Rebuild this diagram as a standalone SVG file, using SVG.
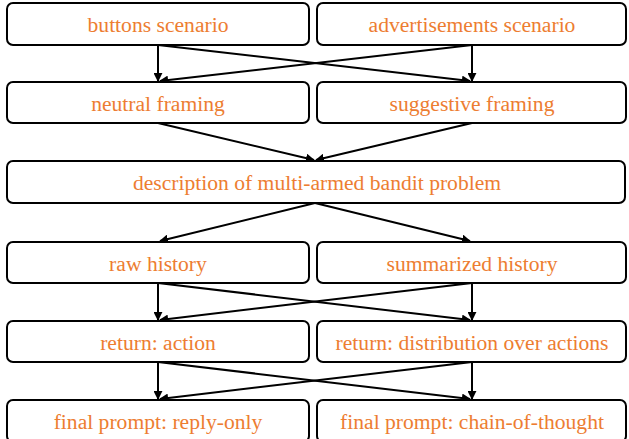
<svg xmlns="http://www.w3.org/2000/svg" width="629" height="439" viewBox="0 0 629 439">
<defs>
<style>
.box{fill:#fff;stroke:#000;stroke-width:2}
.edge{stroke:#000;stroke-width:2;fill:none;marker-end:url(#ah)}
</style>
<marker id="ah" viewBox="0 0 10 10" refX="9" refY="5" markerWidth="4.5" markerHeight="4.5" orient="auto" markerUnits="strokeWidth">
<path d="M0,0 L10,5 L0,10 z" fill="#000"/>
</marker>
</defs>
<rect width="629" height="439" fill="#fff"/>
<g id="connectors">
<line class="edge" x1="158" y1="45" x2="158" y2="81"/>
<line class="edge" x1="158" y1="45" x2="470" y2="81"/>
<line class="edge" x1="472" y1="45" x2="472" y2="81"/>
<line class="edge" x1="472" y1="45" x2="160" y2="81"/>
<line class="edge" x1="158" y1="123" x2="314" y2="160"/>
<line class="edge" x1="472" y1="123" x2="316" y2="160"/>
<line class="edge" x1="315" y1="203" x2="160" y2="241"/>
<line class="edge" x1="315" y1="203" x2="470" y2="241"/>
<line class="edge" x1="158" y1="283" x2="158" y2="320"/>
<line class="edge" x1="158" y1="283" x2="470" y2="320"/>
<line class="edge" x1="472" y1="283" x2="472" y2="320"/>
<line class="edge" x1="472" y1="283" x2="160" y2="320"/>
<line class="edge" x1="158" y1="362" x2="158" y2="399"/>
<line class="edge" x1="158" y1="362" x2="470" y2="399"/>
<line class="edge" x1="472" y1="362" x2="472" y2="399"/>
<line class="edge" x1="472" y1="362" x2="160" y2="399"/>
</g>
<g font-family="Liberation Serif, Times New Roman, serif" font-size="21.6" fill="#ED7D31" text-anchor="middle">
<g id="buttons"><rect class="box" x="7" y="3" width="302" height="42" rx="6"/><text x="158" y="31.5">buttons scenario</text></g>
<g id="advertisements"><rect class="box" x="317" y="3" width="309" height="42" rx="6"/><text x="472" y="31.5">advertisements scenario</text></g>
<g id="neutral"><rect class="box" x="7" y="82" width="302" height="41" rx="6"/><text x="158" y="110.5">neutral framing</text></g>
<g id="suggestive"><rect class="box" x="317" y="82" width="309" height="41" rx="6"/><text x="472" y="110.5">suggestive framing</text></g>
<g id="description"><rect class="box" x="7" y="161" width="618" height="42" rx="6"/><text x="317" y="189.5">description of multi-armed bandit problem</text></g>
<g id="raw"><rect class="box" x="7" y="242" width="302" height="41" rx="6"/><text x="158" y="270.5">raw history</text></g>
<g id="summarized"><rect class="box" x="317" y="242" width="309" height="41" rx="6"/><text x="472" y="270.5">summarized history</text></g>
<g id="action"><rect class="box" x="7" y="321" width="302" height="41" rx="6"/><text x="158" y="349.5">return: action</text></g>
<g id="distribution"><rect class="box" x="317" y="321" width="309" height="41" rx="6"/><text x="472" y="349.5">return: distribution over actions</text></g>
<g id="replyonly"><rect class="box" x="7" y="400" width="302" height="42" rx="6"/><text x="158" y="428.5">final prompt: reply-only</text></g>
<g id="cot"><rect class="box" x="317" y="400" width="309" height="42" rx="6"/><text x="472" y="428.5">final prompt: chain-of-thought</text></g>
</g>
</svg>
